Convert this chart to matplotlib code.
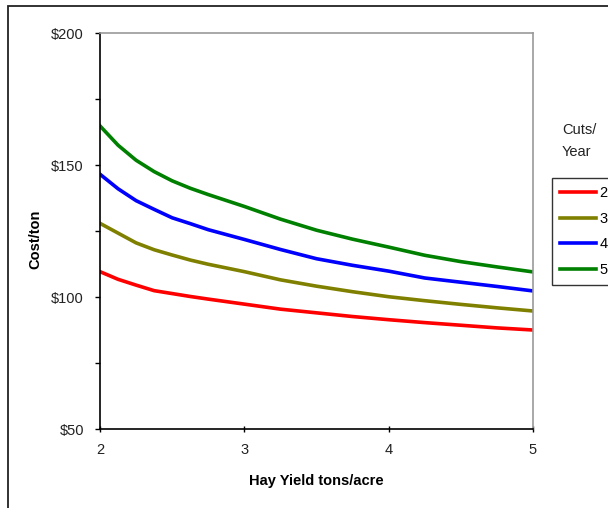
import matplotlib
matplotlib.use("Agg")
import matplotlib.pyplot as plt
from matplotlib.patches import Rectangle
from matplotlib.ticker import MultipleLocator, FuncFormatter

plt.rcParams['font.family'] = ['Liberation Sans', 'DejaVu Sans']

# hay yield (tons/acre) and cost per ton for each number of cuts per year
yields = [2, 2.125, 2.25, 2.375, 2.5, 2.625, 2.75, 3, 3.25, 3.5, 3.75, 4, 4.25, 4.5, 4.75, 5]
cost_2 = [109.6, 106.7, 104.5, 102.4, 101.3, 100.2, 99.2, 97.3, 95.4, 94.0, 92.6, 91.4, 90.3, 89.3, 88.3, 87.5]
cost_3 = [127.9, 124.2, 120.5, 117.9, 115.9, 114.0, 112.4, 109.6, 106.5, 104.1, 102.0, 100.1, 98.6, 97.2, 95.9, 94.7]
cost_4 = [146.5, 141.0, 136.5, 133.2, 130.0, 127.8, 125.5, 121.8, 118.0, 114.5, 112.0, 109.8, 107.2, 105.6, 104.0, 102.3]
cost_5 = [164.8, 157.5, 151.8, 147.5, 144.0, 141.2, 138.8, 134.3, 129.5, 125.3, 121.9, 118.9, 115.8, 113.4, 111.4, 109.5]

cuts = ["2", "3", "4", "5"]
series = [cost_2, cost_3, cost_4, cost_5]
colors = ["#ff0000", "#808000", "#0000ff", "#008000"]

W, H = 608, 508
fig = plt.figure(figsize=(W / 100, H / 100), dpi=100)
ax = fig.add_axes([100 / W, 1 - 429 / H, 433 / W, 396 / H])

for lab, ys, c in zip(cuts, series, colors):
    ax.plot(yields, ys, color=c, lw=2.6, label=lab, solid_joinstyle='miter')

ax.set_xlim(2, 5)
ax.set_ylim(50, 200)
ax.xaxis.set_major_locator(MultipleLocator(1))
ax.yaxis.set_major_locator(MultipleLocator(50))
ax.yaxis.set_minor_locator(MultipleLocator(25))
ax.yaxis.set_major_formatter(FuncFormatter(lambda v, p: "$%d" % v))

ax.tick_params(axis='y', which='both', direction='out', length=3.6, width=1, pad=8,
               labelsize=10.5, labelcolor='#222222')
ax.tick_params(axis='x', direction='inout', length=5, width=1, pad=7.5,
               labelsize=10.5, labelcolor='#222222')

for side in ['left', 'bottom']:
    ax.spines[side].set_color('black')
    ax.spines[side].set_linewidth(1.2)
for side in ['top', 'right']:
    ax.spines[side].set_color('#999999')
    ax.spines[side].set_linewidth(1.2)

ax.set_xlabel("Hay Yield tons/acre", fontsize=10.5, fontweight='bold', labelpad=12)
ax.set_ylabel("Cost/ton", fontsize=10.5, fontweight='bold')
ax.yaxis.set_label_coords(-0.134, 0.48)

# legend sits to the right of the plot with its heading above the box
leg = ax.legend(loc='upper left', bbox_to_anchor=(552 / W, 1 - 178 / H),
                bbox_transform=fig.transFigure, frameon=True, fancybox=False,
                fontsize=10.5, handlelength=2.5, handletextpad=0.2,
                labelspacing=0.8, borderpad=0.55, borderaxespad=0)
leg.get_frame().set_edgecolor('black')
leg.get_frame().set_linewidth(1)
for line in leg.get_lines():
    line.set_linewidth(2.6)

fig.text(562 / W, 1 - 130 / H, "Cuts/", fontsize=10.5, va='center', ha='left', color='#222222')
fig.text(562 / W, 1 - 152 / H, "Year", fontsize=10.5, va='center', ha='left', color='#222222')

# outer chart frame, running off the right and bottom edges
fig.patches.append(Rectangle((8 / W, -0.1), 1.2, 1 - 6 / H + 0.1,
                             transform=fig.transFigure, fill=False,
                             edgecolor='#222222', lw=1.3))

fig.savefig("out.png", dpi=100)
